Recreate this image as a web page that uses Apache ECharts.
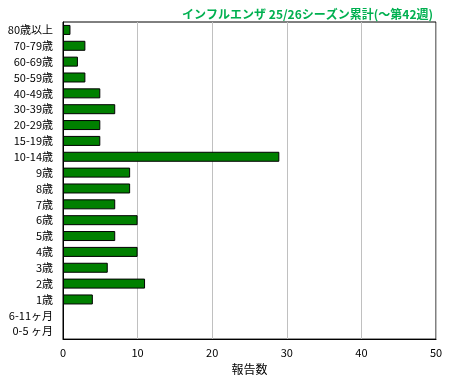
<!DOCTYPE html>
<html><head><meta charset="utf-8">
<script src="https://cdn.jsdelivr.net/npm/echarts@6/dist/echarts.min.js"></script>
<style>html,body{margin:0;padding:0;background:#fff;}#c{width:460px;height:380px;}</style>
</head><body><div id="c"></div>
<script>
const categories = ['80歳以上','70-79歳','60-69歳','50-59歳','40-49歳','30-39歳','20-29歳','15-19歳','10-14歳','9歳','8歳','7歳','6歳','5歳','4歳','3歳','2歳','1歳','6-11ヶ月','0-5 ヶ月'];
const reports = [1,3,2,3,5,7,5,5,29,9,9,7,10,7,10,6,11,4,0,0];
const xTicks = [0,10,20,30,40,50];
const titleText = 'インフルエンザ 25/26シーズン累計(～第42週)';
const xName = '報告数';

const font = '"Noto Sans CJK JP", sans-serif';
const barData = reports.map(v => v === 0
  ? {value:v, itemStyle:{borderWidth:0, color:'transparent'}}
  : {value:v});
const chart = echarts.init(document.getElementById('c'), null, {renderer:'canvas'});
chart.setOption({
  animation:false,
  title:{text:titleText, right:22, top:3, textStyle:{color:'#00b050', fontSize:12, fontWeight:'bold', fontFamily:font}},
  grid:{left:63, right:24, top:22, bottom:39, show:true, borderColor:'#000', borderWidth:1, containLabel:false},
  xAxis:{type:'value', min:xTicks[0], max:xTicks[xTicks.length-1], interval:10,
    name:xName, nameLocation:'middle', nameGap:22,
    nameTextStyle:{color:'#000', fontSize:12, fontFamily:font},
    axisLine:{show:true, lineStyle:{color:'#000'}}, axisTick:{show:false},
    axisLabel:{color:'#000', fontSize:11, fontFamily:font, margin:8},
    splitLine:{show:true, lineStyle:{color:'#c0c0c0', width:1}}},
  yAxis:{type:'category', data:categories, inverse:true,
    axisLine:{show:true, lineStyle:{color:'#000'}}, axisTick:{show:false},
    axisLabel:{color:'#000', fontSize:11, fontFamily:font, margin:10},
    splitLine:{show:false}},
  series:[{type:'bar', data:barData, barWidth:10,
    itemStyle:{color:'#008000', borderColor:'#000', borderWidth:1}}]
});
</script></body></html>
